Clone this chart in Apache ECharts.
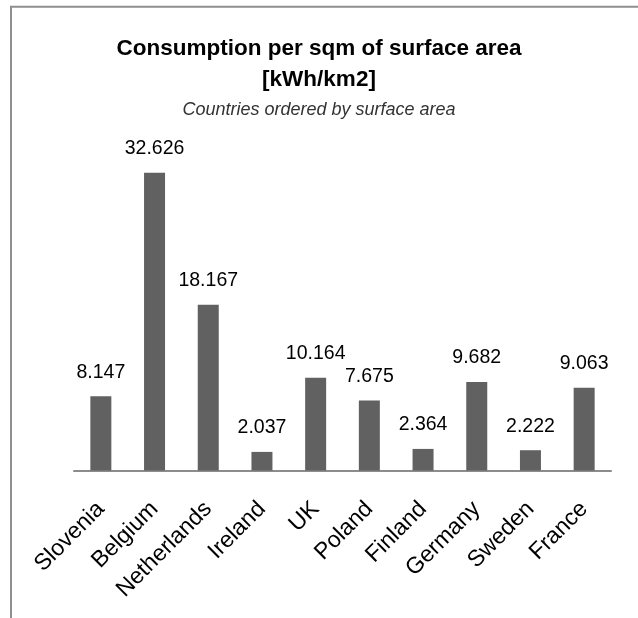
<!DOCTYPE html>
<html>
<head>
<meta charset="utf-8">
<script src="https://cdn.jsdelivr.net/npm/echarts@6/dist/echarts.min.js"></script>
<style>
html,body{margin:0;padding:0;background:#fff;}
#chart{width:638px;height:618px;}
</style>
</head>
<body>
<div id="chart"></div>
<script>
var categories = ['Slovenia','Belgium','Netherlands','Ireland','UK','Poland','Finland','Germany','Sweden','France'];
var values = [8.147, 32.626, 18.167, 2.037, 10.164, 7.675, 2.364, 9.682, 2.222, 9.063];
var titleText = 'Consumption per sqm of surface area\n[kWh/km2]';
var subtitleText = 'Countries ordered by surface area';

var chart = echarts.init(document.getElementById('chart'), null, {renderer:'canvas'});
var FONT = '"Liberation Sans", Arial, sans-serif';
chart.setOption({
  animation:false,
  backgroundColor:'#ffffff',
  title:[{
    text: titleText,
    left:'center',
    top:28,
    textStyle:{fontFamily:FONT,fontSize:22.5,fontWeight:'bold',color:'#000',lineHeight:31}
  },{
    text: subtitleText,
    left:'center',
    top:95,
    textStyle:{fontFamily:FONT,fontSize:18,fontStyle:'italic',fontWeight:'normal',color:'#333',lineHeight:20}
  }],
  graphic:[{
    type:'polyline',
    shape:{points:[[11,618],[11,6.7],[638,6.7]]},
    style:{stroke:'#8f8f8f',lineWidth:2,fill:null}
  }],
  grid:{left:74,right:27,top:151,bottom:147.5,containLabel:false},
  xAxis:{
    type:'category',
    data:categories,
    axisLine:{show:true,lineStyle:{color:'#8c8c8c',width:2}},
    axisTick:{show:false},
    axisLabel:{rotate:45,interval:0,margin:35,padding:[22,0,0,0],fontFamily:FONT,fontSize:23,color:'#000'}
  },
  yAxis:{type:'value',min:0,max:35,show:false,splitLine:{show:false}},
  series:[{
    type:'bar',
    data:values,
    barWidth:21,
    itemStyle:{color:'#616161'},
    label:{show:true,position:'top',distance:14,fontFamily:FONT,fontSize:19.5,color:'#000',
      formatter:function(p){return p.value.toFixed(3);}}
  }]
});
</script>
</body>
</html>
